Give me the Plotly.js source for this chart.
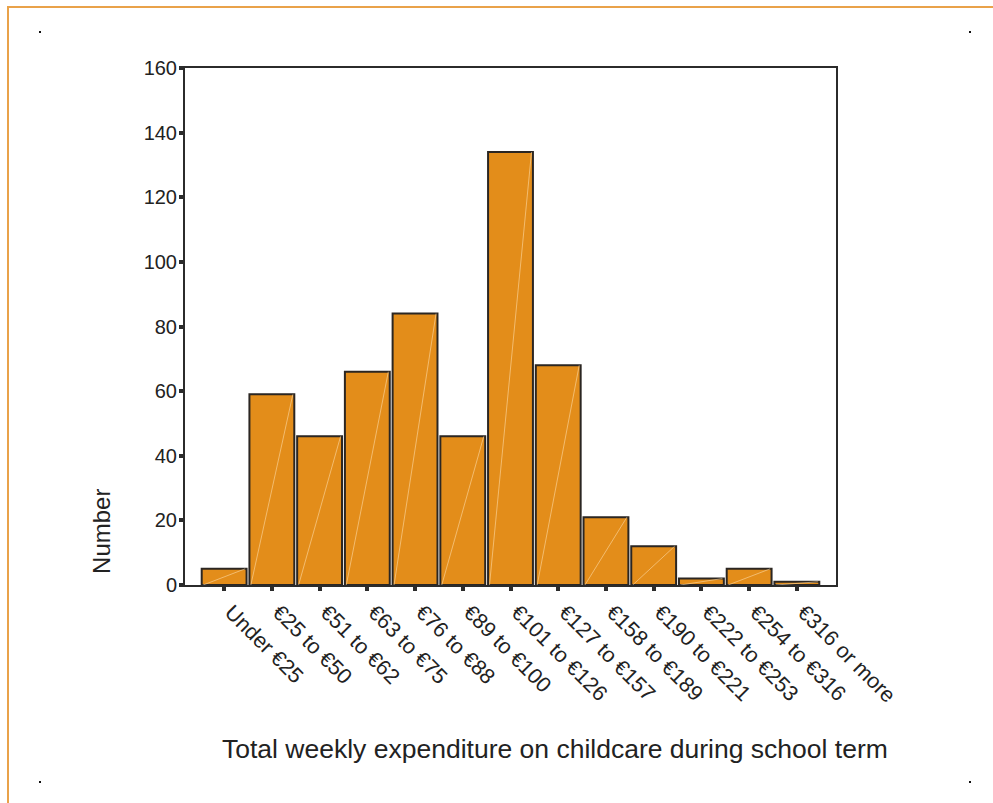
<!DOCTYPE html>
<html>
<head>
<meta charset="utf-8">
<script src="https://cdn.plot.ly/plotly-3.0.1.min.js"></script>
<style>
  html, body { margin: 0; padding: 0; background: #fff; }
  #wrap { position: relative; width: 993px; height: 803px; overflow: hidden; }
  #chart { position: absolute; left: 0; top: 0; width: 993px; height: 803px; }
  .frameTop { position: absolute; left: 7px; top: 6px; width: 990px; height: 2px; background: #E9A24A; }
  .frameLeft { position: absolute; left: 7px; top: 6px; width: 2px; height: 800px; background: #E9A24A; }
  .dot { position: absolute; width: 2px; height: 2px; background: #111; }
</style>
</head>
<body>
<div id="wrap">
  <div id="chart"></div>
  <div class="frameTop"></div>
  <div class="frameLeft"></div>
  <div class="dot" style="left:39px;top:31px"></div>
  <div class="dot" style="left:969px;top:31px"></div>
  <div class="dot" style="left:39px;top:781px"></div>
  <div class="dot" style="left:969px;top:781px"></div>
</div>
<script>
const categories = ["Under €25", "€25 to €50", "€51 to €62", "€63 to €75", "€76 to €88",
  "€89 to €100", "€101 to €126", "€127 to €157", "€158 to €189", "€190 to €221",
  "€222 to €253", "€254 to €316", "€316 or more"];
const counts = [5, 59, 46, 66, 84, 46, 134, 68, 21, 12, 2, 5, 1];
const yTicks = [0, 20, 40, 60, 80, 100, 120, 140, 160];

const barWidth = 0.94;
const xIdx = categories.map((c, i) => i);
const FONT = '"Liberation Sans", Arial, Helvetica, sans-serif';

const trace = {
  type: 'bar',
  x: xIdx,
  y: counts,
  width: barWidth,
  marker: { color: '#E38D1A', line: { color: '#2b2622', width: 2 } },
  hoverinfo: 'x+y'
};

// faint diagonal sheen line inside each bar, derived from the data
const shapes = counts.map((v, i) => ({
  type: 'line', xref: 'x', yref: 'y',
  x0: i - barWidth / 2 + 0.03, y0: 0, x1: i + barWidth / 2 - 0.03, y1: v,
  line: { color: 'rgba(255,225,180,0.55)', width: 1 }
}));

const layout = {
  width: 993, height: 803,
  margin: { l: 185, r: 157, t: 68, b: 218, pad: 0 },
  paper_bgcolor: '#ffffff', plot_bgcolor: '#ffffff',
  font: { family: FONT, color: '#222' },
  showlegend: false,
  xaxis: {
    range: [-0.82, 12.82],
    tickmode: 'array', tickvals: xIdx, ticktext: categories,
    tickangle: 45,
    tickfont: { family: FONT, size: 21.5, color: '#222' },
    ticks: 'outside', ticklen: 4, tickwidth: 4, tickcolor: '#2b2b2b',
    ticklabelshift: 7,
    showline: true, linecolor: '#2b2b2b', linewidth: 2, mirror: true,
    showgrid: false, zeroline: false, fixedrange: true
  },
  yaxis: {
    range: [0, 160],
    tickmode: 'array', tickvals: yTicks, ticktext: yTicks.map(String),
    tickfont: { family: FONT, size: 20, color: '#222' },
    ticks: 'outside', ticklen: 4, tickwidth: 4, tickcolor: '#2b2b2b',
    ticklabelstandoff: -2,
    showline: true, linecolor: '#2b2b2b', linewidth: 2, mirror: true,
    showgrid: false, zeroline: false, fixedrange: true
  },
  shapes: shapes,
  annotations: [
    { text: 'Number', xref: 'paper', yref: 'paper', x: -0.128, y: 0.104,
      showarrow: false, textangle: -90, font: { family: FONT, size: 24, color: '#222' },
      xanchor: 'center', yanchor: 'middle' },
    { text: 'Total weekly expenditure on childcare during school term',
      xref: 'paper', yref: 'paper', x: 0.568, y: -0.318,
      showarrow: false, font: { family: FONT, size: 26.5, color: '#222' },
      xanchor: 'center', yanchor: 'middle' }
  ]
};

Plotly.newPlot('chart', [trace], layout, { displayModeBar: false, staticPlot: true });
</script>
</body>
</html>
